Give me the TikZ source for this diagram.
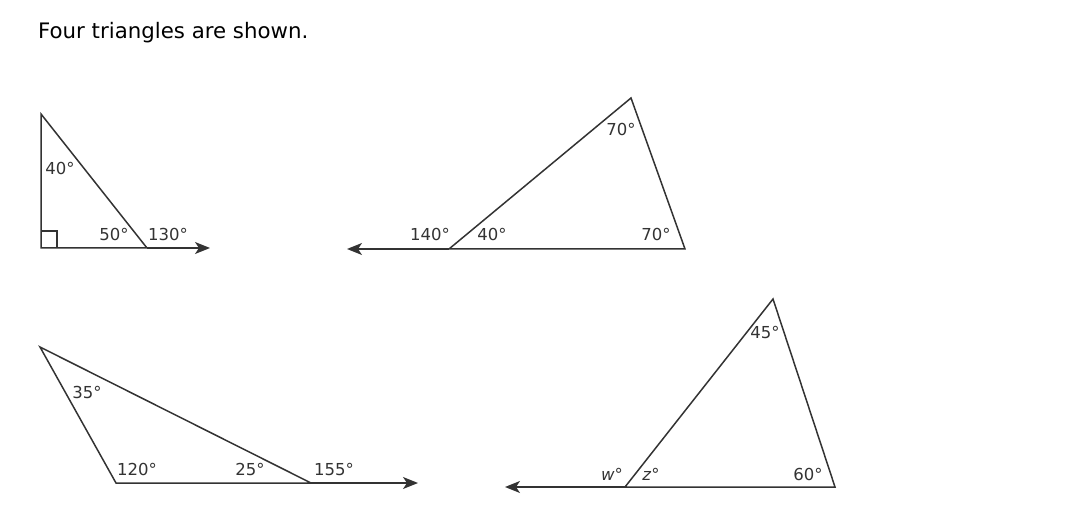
\documentclass[tikz,border=0pt]{standalone}
\usepackage{fontspec}
\setmainfont{DejaVu Sans}
\usetikzlibrary{arrows.meta}
\begin{document}
\begin{tikzpicture}[x=1pt,y=-1pt,
  edge/.style={draw=black!80, line width=1.5pt, line join=miter},
  ray/.style={draw=black!80, line width=1.5pt, -{Stealth[length=15pt,width=12pt,inset=4pt]}},
  lbl/.style={inner sep=0pt, font=\fontsize{16.5}{19}\selectfont, text=black!80},
  title/.style={inner sep=0pt, anchor=west, font=\fontsize{21.3}{25}\selectfont}]
\useasboundingbox (0,0) rectangle (1091,518);
\node[title] (t) at (38,33) {Four triangles are shown.};
% triangle 1
\coordinate (a1) at (41,114);
\coordinate (b1) at (41,248);
\coordinate (c1) at (147,248);
\coordinate (r1) at (210,248);
\draw[edge] (a1) -- (b1) -- (c1) -- cycle;
\draw[ray] (c1) -- (r1);
\draw[edge, line width=1.3pt] (41,231) -- (57,231) -- (57,248);
\node[lbl] (l1a) at (60,168) {40°};
\node[lbl] (l1b) at (114,234) {50°};
\node[lbl] (l1c) at (168,234) {130°};
% triangle 2
\coordinate (a2) at (631,98);
\coordinate (b2) at (449,249);
\coordinate (c2) at (685,249);
\coordinate (r2) at (347,249);
\draw[edge] (a2) -- (b2) -- (c2) -- cycle;
\draw[ray] (b2) -- (r2);
\node[lbl] (l2a) at (621,129) {70°};
\node[lbl] (l2b) at (430,234) {140°};
\node[lbl] (l2c) at (492,234) {40°};
\node[lbl] (l2d) at (656,234) {70°};
% triangle 3
\coordinate (a3) at (40,347);
\coordinate (b3) at (116,483);
\coordinate (c3) at (311,483);
\coordinate (r3) at (418,483);
\draw[edge] (a3) -- (b3) -- (c3) -- cycle;
\draw[ray] (c3) -- (r3);
\node[lbl] (l3a) at (87,392) {35°};
\node[lbl] (l3b) at (137,469) {120°};
\node[lbl] (l3c) at (250,469) {25°};
\node[lbl] (l3d) at (334,469) {155°};
% triangle 4
\coordinate (a4) at (773,299);
\coordinate (b4) at (625,487);
\coordinate (c4) at (835,487);
\coordinate (r4) at (505,487);
\draw[edge] (a4) -- (b4) -- (c4) -- cycle;
\draw[ray] (b4) -- (r4);
\node[lbl] (l4a) at (765,332) {45°};
\node[lbl] (l4b) at (612,474) {\textit{w}°};
\node[lbl] (l4c) at (651,474) {\textit{z}°};
\node[lbl] (l4d) at (808,474) {60°};
\end{tikzpicture}
\end{document}
